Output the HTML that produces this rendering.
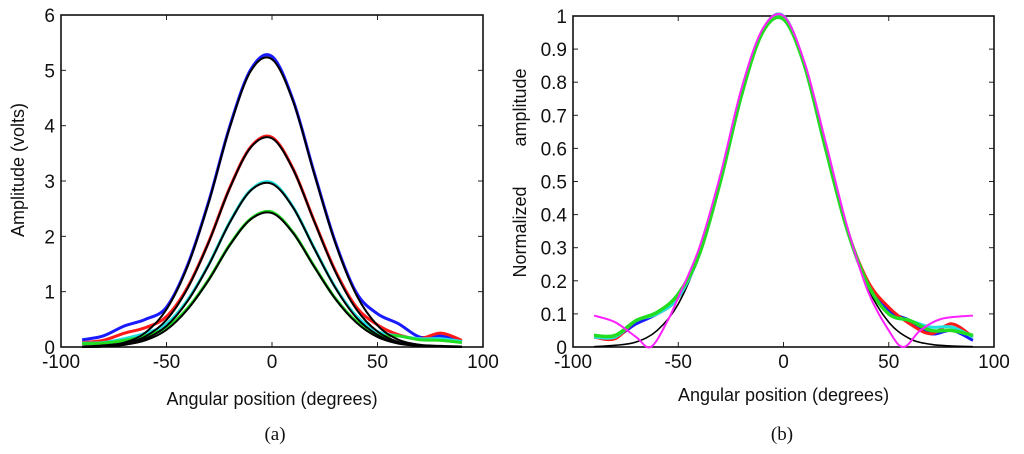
<!DOCTYPE html>
<html><head><meta charset="utf-8">
<style>
html,body{margin:0;padding:0;background:#fff;}
svg{display:block;}
text{font-family:"Liberation Sans",sans-serif;fill:#111;}
.cap{font-family:"Liberation Serif",serif;}
</style></head>
<body>
<svg id="chart" width="1024" height="454" viewBox="0 0 1024 454">
<g id="pa"></g>
<g id="pb"></g>
</svg>
<script>
const X = [-90,-80,-70,-60,-50,-40,-30,-20,-10,0,10,20,30,40,50,60,70,80,90];
const xTicks = [-100,-50,0,50,100];
const aYTicks = [0,1,2,3,4,5,6];
const bYTicks = [0,0.1,0.2,0.3,0.4,0.5,0.6,0.7,0.8,0.9,1];
const bYTickLabels = ["0","0.1","0.2","0.3","0.4","0.5","0.6","0.7","0.8","0.9","1"];
// panel a measured
const aBlue  = [0.13,0.2,0.38,0.5,0.72,1.48,2.63,3.99,5.02,5.25,4.46,3.15,1.9,0.98,0.6,0.42,0.18,0.2,0.1];
const aRed   = [0.08,0.12,0.25,0.35,0.55,1.08,1.9,2.88,3.62,3.79,3.22,2.28,1.38,0.72,0.4,0.22,0.15,0.25,0.12];
const aCyan  = [0.07,0.08,0.15,0.25,0.42,0.85,1.49,2.26,2.84,2.97,2.53,1.79,1.08,0.56,0.28,0.2,0.15,0.15,0.1];
const aGreen = [0.06,0.07,0.12,0.2,0.35,0.7,1.22,1.85,2.32,2.44,2.07,1.46,0.88,0.46,0.22,0.2,0.13,0.12,0.08];
// panel a fits
const aFitBlue  = [0.01,0.03,0.08,0.26,0.68,1.46,2.61,3.97,4.99,5.2,4.44,3.13,1.88,0.94,0.39,0.13,0.04,0.02,0.01];
const aFitRed   = [0,0.02,0.06,0.19,0.49,1.06,1.89,2.87,3.61,3.77,3.21,2.27,1.36,0.68,0.28,0.09,0.03,0.01,0];
const aFitCyan  = [0,0.01,0.04,0.15,0.38,0.83,1.48,2.25,2.83,2.95,2.52,1.78,1.07,0.53,0.22,0.07,0.02,0.01,0];
const aFitGreen = [0,0.01,0.04,0.12,0.31,0.68,1.21,1.84,2.31,2.42,2.06,1.45,0.87,0.44,0.18,0.06,0.02,0.01,0];
// panel b
const bBlack = [0.001,0.005,0.015,0.05,0.13,0.28,0.5,0.76,0.955,1,0.85,0.6,0.36,0.18,0.075,0.025,0.008,0.003,0.001];
const bBlue  = [0.03,0.03,0.07,0.1,0.15,0.28,0.5,0.76,0.955,1,0.85,0.6,0.36,0.19,0.11,0.08,0.04,0.05,0.02];
const bRed   = [0.03,0.025,0.08,0.1,0.15,0.28,0.5,0.76,0.955,1,0.85,0.6,0.36,0.2,0.12,0.07,0.04,0.07,0.03];
const bCyan  = [0.03,0.03,0.08,0.1,0.15,0.28,0.5,0.76,0.955,1,0.85,0.6,0.36,0.19,0.1,0.08,0.06,0.06,0.03];
const bGreen = [0.035,0.035,0.08,0.105,0.16,0.28,0.5,0.76,0.95,0.99,0.85,0.6,0.36,0.19,0.1,0.08,0.05,0.05,0.035];
const magX = [-90,-80,-70,-63,-55,-50,-40,-30,-20,-10,0,10,20,30,40,50,57,65,75,90];
const magY = [0.095,0.075,0.03,0,0.08,0.15,0.3,0.52,0.78,0.96,1,0.86,0.62,0.37,0.17,0.05,0,0.05,0.085,0.095];

const NS="http://www.w3.org/2000/svg";
function mk(tag,attrs,parent){const e=document.createElementNS(NS,tag);for(const k in attrs)e.setAttribute(k,attrs[k]);parent.appendChild(e);return e;}

function smooth(pts){
  let d="M"+pts[0][0].toFixed(2)+","+pts[0][1].toFixed(2);
  for(let i=0;i<pts.length-1;i++){
    const p0=pts[Math.max(0,i-1)],p1=pts[i],p2=pts[i+1],p3=pts[Math.min(pts.length-1,i+2)];
    const c1=[p1[0]+(p2[0]-p0[0])/6,p1[1]+(p2[1]-p0[1])/6];
    const c2=[p2[0]-(p3[0]-p1[0])/6,p2[1]-(p3[1]-p1[1])/6];
    d+=" C"+c1[0].toFixed(2)+","+c1[1].toFixed(2)+" "+c2[0].toFixed(2)+","+c2[1].toFixed(2)+" "+p2[0].toFixed(2)+","+p2[1].toFixed(2);
  }
  return d;
}

function panel(g,box,ymax,yTicks,yLabels,xTitleY,yTitle,cap,capX){
  const sx=v=>box.l+(v+100)/200*(box.r-box.l);
  const sy=v=>box.b-v/ymax*(box.b-box.t);
  xTicks.forEach(t=>{
    const x=sx(t);
    let e=mk('line',{x1:x,x2:x,y1:box.b,y2:box.b-5,stroke:'#222','stroke-width':1},g);
    
    
    e=mk('line',{x1:x,x2:x,y1:box.t,y2:box.t+5,stroke:'#222','stroke-width':1},g);
    
    
    e=mk('text',{x:x,y:box.b+21,'text-anchor':'middle','font-size':19},g);
    e.textContent=String(t);
    
    
  });
  yTicks.forEach((t,i)=>{
    const y=sy(t);
    let e=mk('line',{x1:box.l,x2:box.l+5,y1:y,y2:y,stroke:'#222','stroke-width':1},g);
    
    
    e=mk('line',{x1:box.r,x2:box.r-5,y1:y,y2:y,stroke:'#222','stroke-width':1},g);
    
    
    e=mk('text',{x:box.l-6,y:y+7,'text-anchor':'end','font-size':19},g);
    e.textContent=yLabels[i];
    
    
  });
  let e=mk('rect',{x:box.l,y:box.t,width:box.r-box.l,height:box.b-box.t,fill:'none',stroke:'#111','stroke-width':1.6},g);
  
  
  const cx=(box.l+box.r)/2;
  e=mk('text',{x:cx,y:xTitleY,'text-anchor':'middle','font-size':18},g);
  e.textContent='Angular position (degrees)';
  
  
  e=mk('text',{x:0,y:0,'text-anchor':'middle','font-size':18,style:'white-space:pre',transform:'translate('+yTitle.x+','+yTitle.y+') rotate(-90)'},g);
  e.textContent=yTitle.t;
  
  
  e=mk('text',{x:capX,y:440,'text-anchor':'middle','font-size':19,'class':'cap'},g);
  e.textContent=cap;
  
  
  return {sx,sy};
}

function series(g,ax,xs,ys,color,w,name){
  const pts=xs.map((x,i)=>[ax.sx(x),ax.sy(ys[i])]);
  const p=mk('path',{d:smooth(pts),fill:'none',stroke:color,'stroke-width':w,'stroke-linejoin':'round'},g);
  
  
}

const ga=document.getElementById('pa');
const A=panel(ga,{l:61,r:483,t:15,b:347},6,aYTicks,aYTicks.map(String),405,{x:24,y:170,t:'Amplitude (volts)'},'(a)',275);
series(ga,A,X,aBlue,'#1a1aff',3,'series-blue');
series(ga,A,X,aRed,'#ff1a1a',3,'series-red');
series(ga,A,X,aCyan,'#22e0e0',3,'series-cyan');
series(ga,A,X,aGreen,'#22dd22',3,'series-green');
series(ga,A,X,aFitBlue,'#000',2,'fit-blue');
series(ga,A,X,aFitRed,'#000',2,'fit-red');
series(ga,A,X,aFitCyan,'#000',2,'fit-cyan');
series(ga,A,X,aFitGreen,'#000',2,'fit-green');

const gb=document.getElementById('pb');
const B=panel(gb,{l:573,r:994,t:16,b:347},1,bYTicks,bYTickLabels,401,{x:526,y:173,t:'Normalized        amplitude'},'(b)',782);
series(gb,B,X,bBlack,'#000',1.6,'model-black');
series(gb,B,X,bBlue,'#1a1aff',3,'series-blue');
series(gb,B,X,bRed,'#ff1a1a',3,'series-red');
series(gb,B,X,bCyan,'#22e0e0',3,'series-cyan');
series(gb,B,X,bGreen,'#22dd22',3.5,'series-green');
series(gb,B,magX,magY,'#ff22ff',2,'model-magenta');
</script>
</body></html>
